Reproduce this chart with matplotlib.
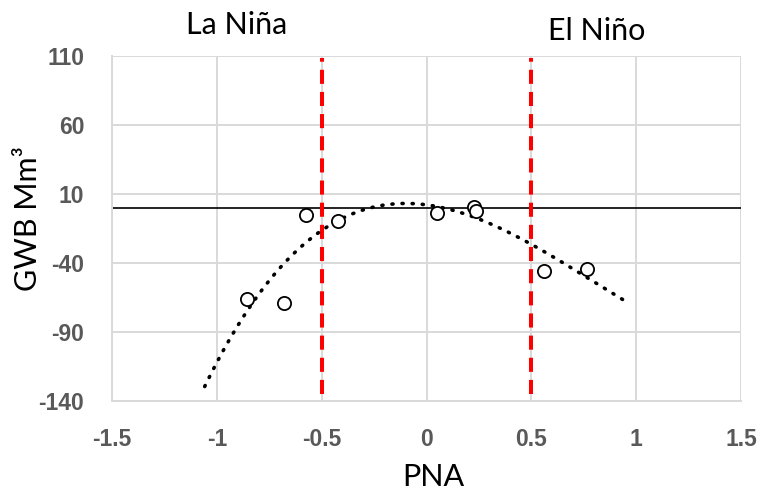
import numpy as np
import matplotlib
matplotlib.use("Agg")
import matplotlib.pyplot as plt

plt.rcParams["axes.unicode_minus"] = False

# PNA index vs groundwater budget (GWB, Mm³)
pna = [-0.858, -0.679, -0.577, -0.422, 0.050, 0.226, 0.237, 0.561, 0.767]
gwb = [-66.4, -69.3, -5.3, -9.6, -4.1, 0.3, -2.2, -45.6, -44.6]

x_ticks = [-1.5, -1, -0.5, 0, 0.5, 1, 1.5]
x_tick_labels = ["-1.5", "-1", "-0.5", "0", "0.5", "1", "1.5"]
y_ticks = [-140, -90, -40, 10, 60, 110]
y_tick_labels = ["-140", "-90", "-40", "10", "60", "110"]
enso_thresholds = [-0.5, 0.5]

W, H = 761, 493
fig = plt.figure(figsize=(W / 100, H / 100), dpi=100)
ax = fig.add_axes([112 / W, 1 - 400.7 / H, (741 - 112) / W, (400.7 - 56) / H])

grid_c = "#d9d9d9"
tick_c = "#595959"

ax.set_xlim(-1.5, 1.5)
ax.set_ylim(-140, 110)
ax.set_xticks(x_ticks)
ax.set_xticklabels(x_tick_labels)
ax.set_yticks(y_ticks)
ax.set_yticklabels(y_tick_labels)
ax.grid(True, color=grid_c, linewidth=1.4, zorder=0)
ax.set_axisbelow(True)
for s in ["top", "right"]:
    ax.spines[s].set_visible(False)
for s in ["left", "bottom"]:
    ax.spines[s].set_color(grid_c)
    ax.spines[s].set_linewidth(1.4)
ax.tick_params(length=0, pad=20, labelcolor=tick_c)
for lab in ax.get_xticklabels() + ax.get_yticklabels():
    lab.set_fontproperties({"family": "Liberation Sans", "weight": "bold",
                            "size": 16.5})

# zero line
ax.axhline(0, color="black", linewidth=1.2, zorder=2)

# ENSO phase thresholds
for t in enso_thresholds:
    ax.axvline(t, ymin=0.02, ymax=0.994, color="red", linewidth=2.9,
               linestyle=(0, (3.5, 2.0)), zorder=3)

# polynomial trend line
coef = np.polyfit(pna, gwb, 3)
xt = np.linspace(min(pna) - 0.2, max(pna) + 0.18, 200)
ax.plot(xt, np.polyval(coef, xt), color="black", linewidth=2.6,
        linestyle=(0, (0.3, 2.5)), dash_capstyle="round", zorder=4)

ax.plot(pna, gwb, linestyle="none", marker="o", markersize=9.5,
        markerfacecolor="white", markeredgecolor="black",
        markeredgewidth=1.3, zorder=5)

txt = dict(fontsize=22, family="Lato", color="black")
fig.text(433 / W, 6.5 / H, "PNA", ha="center", va="baseline", **txt)
fig.text(37 / W, 1 - 219 / H, "GWB Mm³", ha="center", va="baseline",
         rotation=90, rotation_mode="anchor", **txt)
fig.text(236.7 / W, 1 - 34.3 / H, "La Niña", ha="center", va="baseline", **txt)
fig.text(597 / W, 1 - 40 / H, "El Niño", ha="center", va="baseline", **txt)

fig.savefig("out.png", dpi=100)
